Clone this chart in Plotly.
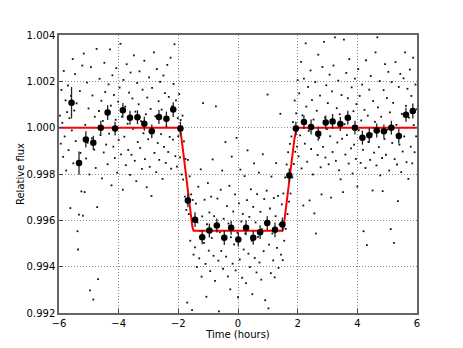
import plotly.graph_objects as go

# raw photometry, hours from mid-transit
left_time = [
    -5.97, -5.94, -5.92, -5.89, -5.86, -5.84, -5.81, -5.78, -5.76, -5.73,
    -5.70, -5.68, -5.65, -5.62, -5.60, -5.57, -5.54, -5.52, -5.49, -5.46,
    -5.44, -5.41, -5.38, -5.36, -5.33, -5.30, -5.28, -5.25, -5.22, -5.20,
    -5.17, -5.14, -5.12, -5.09, -5.06, -5.04, -5.01, -4.98, -4.96, -4.93,
    -4.90, -4.88, -4.85, -4.82, -4.80, -4.77, -4.74, -4.72, -4.69, -4.66,
    -4.64, -4.61, -4.58, -4.56, -4.53, -4.50, -4.48, -4.45, -4.42, -4.40,
    -4.37, -4.34, -4.32, -4.29, -4.26, -4.24, -4.21, -4.18, -4.16, -4.13,
    -4.10, -4.08, -4.05, -4.02, -4.00, -3.97, -3.94, -3.92, -3.89, -3.86,
    -3.84, -3.81, -3.78, -3.76, -3.73, -3.70, -3.68, -3.65, -3.62, -3.60,
    -3.57, -3.54, -3.52, -3.49, -3.46, -3.44, -3.41, -3.38, -3.36, -3.33,
    -3.30, -3.28, -3.25, -3.22, -3.20, -3.17, -3.14, -3.12, -3.09, -3.06,
    -3.04, -3.01, -2.98, -2.96, -2.93, -2.90, -2.88, -2.85, -2.82, -2.80,
    -2.77, -2.74, -2.72, -2.69, -2.66, -2.64, -2.61, -2.58, -2.56, -2.53,
    -2.50, -2.48, -2.45, -2.42, -2.40, -2.37, -2.34, -2.32, -2.29, -2.26,
    -2.24, -2.21, -2.18, -2.16, -2.13, -2.10, -2.08, -2.05, -2.02, -2.00,
]
left_flux = [
    1.00052, 0.99931, 1.00163, 1.00021, 0.99874, 1.00245, 0.99962, 1.00118, 0.99815, 1.00067,
    1.00182, 0.99903, 1.00041, 0.99653, 1.00137, 0.99988, 1.00296, 0.99846, 1.00074, 1.00231,
    0.99942, 1.00105, 0.99553, 0.99474, 0.99625, 1.00158, 0.99891, 0.99725, 1.00268, 0.99620,
    1.00320, 0.99722, 1.00012, 0.99867, 1.00194, 0.99935, 1.00083, 0.99798, 0.99298, 1.00261,
    0.99954, 1.00139, 0.99258, 0.99905, 1.00047, 0.99826, 1.00340, 0.99657, 0.99346, 1.00072,
    1.00211, 0.99968, 1.00116, 0.99781, 1.00029, 0.99893, 1.00280, 1.00154, 0.99927, 1.00063,
    0.99842, 1.00187, 0.99974, 1.00338, 1.00095, 0.99751, 1.00226, 0.99918, 1.00141, 0.99869,
    1.00034, 1.00257, 0.99806, 1.00112, 0.99947, 1.00173, 1.00362, 0.99885, 1.00048, 0.99732,
    1.00206, 0.99961, 1.00091, 0.99838, 1.00274, 1.00017, 0.99904, 1.00151, 0.99796, 1.00238,
    0.99883, 1.00126, 0.99995, 1.00312, 0.99857, 1.00069, 0.99769, 1.00193, 0.99938, 1.00101,
    1.00243, 0.99912, 1.00028, 0.99822, 1.00164, 0.99976, 1.00289, 0.99864, 1.00058, 0.99743,
    1.00130, 0.99950, 1.00217, 0.99831, 1.00081, 0.99705, 1.00172, 0.99986, 1.00325, 0.99891,
    1.00049, 0.99808, 1.00253, 0.99934, 1.00114, 0.99861, 1.00198, 0.99972, 1.00078, 0.99779,
    1.00225, 0.99917, 1.00149, 0.99848, 1.00006, 1.00271, 0.99895, 1.00133, 0.99960, 1.00302,
    0.99823, 1.00092, 0.99948, 1.00189, 1.00360, 0.99877, 1.00118, 0.99832, 1.00041, 0.99963,
]

transit_time = [
    -1.97, -1.94, -1.92, -1.89, -1.86, -1.84, -1.81, -1.78, -1.76, -1.73,
    -1.70, -1.68, -1.65, -1.62, -1.60, -1.57, -1.54, -1.52, -1.49, -1.46,
    -1.44, -1.41, -1.38, -1.36, -1.33, -1.30, -1.28, -1.25, -1.22, -1.20,
    -1.17, -1.14, -1.12, -1.09, -1.06, -1.04, -1.01, -0.98, -0.96, -0.93,
    -0.90, -0.88, -0.85, -0.82, -0.80, -0.77, -0.74, -0.72, -0.69, -0.66,
    -0.64, -0.61, -0.58, -0.56, -0.53, -0.50, -0.48, -0.45, -0.42, -0.40,
    -0.37, -0.34, -0.32, -0.29, -0.26, -0.24, -0.21, -0.18, -0.16, -0.13,
    -0.10, -0.08, -0.05, -0.02, 0.00, 0.03, 0.06, 0.08, 0.11, 0.14,
    0.16, 0.19, 0.22, 0.24, 0.27, 0.30, 0.32, 0.35, 0.38, 0.40,
    0.43, 0.46, 0.48, 0.51, 0.54, 0.56, 0.59, 0.62, 0.64, 0.67,
    0.70, 0.72, 0.75, 0.78, 0.80, 0.83, 0.86, 0.88, 0.91, 0.94,
    0.96, 0.99, 1.02, 1.04, 1.07, 1.10, 1.12, 1.15, 1.18, 1.20,
    1.23, 1.26, 1.28, 1.31, 1.34, 1.36, 1.39, 1.42, 1.44, 1.47,
    1.50, 1.52, 1.55, 1.58, 1.60, 1.63, 1.66, 1.68, 1.71, 1.74,
    1.76, 1.79, 1.82, 1.84, 1.87, 1.90, 1.92, 1.95, 1.98, 2.00,
]
transit_flux = [
    1.00145, 0.99872, 1.00033, 0.99798, 1.00052, 0.99776, 0.99941, 0.99702, 0.99865, 0.99645,
    0.99245, 0.99861, 0.99627, 0.99790, 0.99512, 0.99712, 0.99212, 0.99688, 0.99452, 0.99609,
    0.99483, 0.99672, 0.99398, 0.99591, 0.99745, 0.99436, 0.99554, 0.99820, 0.99357, 0.99617,
    1.00106, 0.99503, 0.99689, 0.99412, 0.99270, 0.99583, 0.99761, 0.99469, 0.99634, 0.99381,
    0.99702, 0.99524, 0.99863, 0.99447, 0.99618, 0.99339, 1.00092, 0.99571, 0.99694, 0.99426,
    0.99207, 0.99549, 0.99732, 0.99468, 0.99815, 0.99391, 0.99607, 0.99522, 0.99938, 0.99443,
    0.99661, 0.99358, 0.99586, 0.99749, 0.99302, 0.99527, 0.99875, 0.99413, 0.99638, 0.99496,
    0.99712, 0.99384, 0.99956, 0.99547, 0.99268, 0.99673, 0.99431, 0.99819, 0.99595, 0.99352,
    0.99628, 0.99474, 0.99791, 0.99543, 0.99329, 0.99687, 0.99902, 0.99456, 0.99615, 0.99398,
    0.99734, 0.99512, 0.99281, 0.99658, 0.99846, 0.99437, 0.99591, 0.99375, 0.99713, 0.99529,
    0.99806, 0.99418, 0.99637, 0.99344, 0.99562, 0.99885, 0.99467, 0.99692, 0.99255, 0.99581,
    0.99728, 1.00143, 0.99220, 0.99495, 0.99651, 0.99372, 0.99789, 0.99543, 0.99427, 0.99696,
    0.99354, 0.99618, 0.99847, 0.99481, 0.99706, 0.99395, 0.99582, 1.00060, 0.99452, 0.99669,
    0.99428, 0.99716, 0.99512, 0.99785, 0.99563, 0.99841, 0.99627, 0.99894, 0.99681, 0.99930,
    0.99716, 0.99962, 0.99785, 1.00024, 0.99843, 1.00117, 0.99896, 1.00062, 0.99918, 1.00205,
]

right_time = [
    2.03, 2.05, 2.08, 2.11, 2.13, 2.16, 2.19, 2.21, 2.24, 2.27,
    2.29, 2.32, 2.35, 2.37, 2.40, 2.43, 2.45, 2.48, 2.51, 2.53,
    2.56, 2.59, 2.61, 2.64, 2.67, 2.69, 2.72, 2.75, 2.77, 2.80,
    2.83, 2.85, 2.88, 2.91, 2.93, 2.96, 2.99, 3.01, 3.04, 3.07,
    3.09, 3.12, 3.15, 3.17, 3.20, 3.23, 3.25, 3.28, 3.31, 3.33,
    3.36, 3.39, 3.41, 3.44, 3.47, 3.49, 3.52, 3.55, 3.57, 3.60,
    3.63, 3.65, 3.68, 3.71, 3.73, 3.76, 3.79, 3.81, 3.84, 3.87,
    3.89, 3.92, 3.95, 3.97, 4.00, 4.03, 4.05, 4.08, 4.11, 4.13,
    4.16, 4.19, 4.21, 4.24, 4.27, 4.29, 4.32, 4.35, 4.37, 4.40,
    4.43, 4.45, 4.48, 4.51, 4.53, 4.56, 4.59, 4.61, 4.64, 4.67,
    4.69, 4.72, 4.75, 4.77, 4.80, 4.83, 4.85, 4.88, 4.91, 4.93,
    4.96, 4.99, 5.01, 5.04, 5.07, 5.09, 5.12, 5.15, 5.17, 5.20,
    5.23, 5.25, 5.28, 5.31, 5.33, 5.36, 5.39, 5.41, 5.44, 5.47,
    5.49, 5.52, 5.55, 5.57, 5.60, 5.63, 5.65, 5.68, 5.71, 5.73,
    5.76, 5.79, 5.81, 5.84, 5.87, 5.89, 5.92, 5.95, 5.97, 5.99,
]
right_flux = [
    0.99876, 1.00148, 0.99967, 1.00284, 0.99824, 1.00053, 0.99664, 1.00212, 0.99931, 1.00364,
    1.00091, 0.99853, 1.00176, 0.99986, 0.99686, 1.00247, 0.99908, 1.00119, 0.99798, 1.00035,
    0.99630, 1.00197, 0.99543, 1.00073, 0.99882, 1.00315, 0.99956, 1.00138, 0.99829, 0.99712,
    1.00262, 0.99917, 1.00370, 1.00044, 0.99871, 1.00183, 0.99994, 1.00106, 0.99842, 1.00229,
    0.99963, 0.99698, 1.00157, 0.99895, 1.00268, 1.00021, 1.00390, 0.99857, 1.00084, 0.99936,
    1.00203, 0.99816, 1.00058, 0.99777, 1.00141, 0.99952, 0.99722, 1.00380, 1.00015, 0.99884,
    1.00236, 0.99968, 1.00127, 0.99845, 1.00296, 1.00039, 0.99911, 1.00174, 0.99802, 1.00071,
    0.99927, 1.00212, 0.99865, 1.00102, 0.99746, 1.00253, 0.99989, 1.00137, 0.99848, 1.00031,
    1.00186, 0.99904, 0.99553, 1.00077, 0.99826, 1.00291, 0.99493, 1.00052, 0.99938, 1.00164,
    0.99861, 1.00223, 0.99973, 0.99729, 1.00115, 0.99892, 1.00025, 1.00325, 0.99837, 1.00390,
    1.00088, 0.99916, 1.00201, 0.99794, 1.00047, 0.99869, 0.99726, 1.00162, 0.99951, 1.00274,
    0.99883, 1.00128, 0.99992, 1.00241, 0.99815, 1.00066, 0.99562, 1.00197, 0.99934, 1.00107,
    0.99503, 0.99864, 1.00283, 1.00012, 0.99841, 0.99683, 1.00176, 0.99927, 1.00232, 0.99808,
    1.00059, 0.99897, 1.00213, 0.99962, 1.00325, 1.00094, 0.99851, 1.00168, 0.99779, 1.00043,
    1.00251, 0.99918, 1.00137, 0.99846, 1.00302, 1.00011, 0.99894, 1.00186, 0.99962, 1.00079,
]

# binned light curve
bin_time = [
    -5.58, -5.33, -5.10, -4.85, -4.60, -4.37, -4.12, -3.86, -3.62, -3.37, -3.14, -2.89,
    -2.65, -2.40, -2.17, -1.93, -1.68, -1.44, -1.20, -0.96, -0.71, -0.46, -0.23, 0.01,
    0.27, 0.51, 0.74, 0.98, 1.24, 1.49, 1.72, 1.94, 2.21, 2.45, 2.69, 2.94,
    3.17, 3.43, 3.68, 3.92, 4.17, 4.40, 4.65, 4.89, 5.14, 5.39, 5.63, 5.86,
]
bin_flux = [
    1.00108, 0.99847, 0.99949, 0.99935, 1.00000, 1.00065, 0.99996, 1.00075, 1.00043, 1.00045, 1.00017, 0.99984,
    1.00046, 1.00039, 1.00078, 0.99996, 0.99686, 0.99603, 0.99527, 0.99556, 0.99578, 0.99525, 0.99568, 0.99517,
    0.99568, 0.99525, 0.99549, 0.99588, 0.99559, 0.99582, 0.99794, 0.99996, 1.00024, 1.00003, 0.99974, 1.00022,
    1.00027, 1.00016, 1.00043, 1.00000, 0.99957, 0.99967, 0.99988, 0.99984, 1.00000, 0.99964, 1.00056, 1.00072,
]
bin_err = [
    0.00068, 0.00050, 0.00035, 0.00030, 0.00030, 0.00032, 0.00030, 0.00032, 0.00030, 0.00030, 0.00030, 0.00030,
    0.00030, 0.00030, 0.00032, 0.00030, 0.00030, 0.00032, 0.00030, 0.00030, 0.00030, 0.00032, 0.00030, 0.00030,
    0.00032, 0.00030, 0.00030, 0.00030, 0.00032, 0.00030, 0.00030, 0.00030, 0.00030, 0.00032, 0.00030, 0.00030,
    0.00032, 0.00030, 0.00030, 0.00030, 0.00030, 0.00032, 0.00030, 0.00030, 0.00030, 0.00032, 0.00030, 0.00032,
]

# transit model
model_time = [-6.0, -1.97, -1.93, -1.89, -1.53, -1.49, 1.49, 1.53, 1.89, 1.93, 1.97, 6.0]
model_flux = [1.0, 1.0, 0.99985, 0.99950, 0.99572, 0.99555, 0.99555, 0.99572, 0.99950, 0.99985, 1.0, 1.0]

raw_time = left_time + transit_time + right_time
raw_flux = left_flux + transit_flux + right_flux

fig = go.Figure()
fig.add_scatter(
    x=raw_time, y=raw_flux, mode="markers",
    marker=dict(color="#111", size=1.8, symbol="square"),
)
fig.add_scatter(
    x=model_time, y=model_flux, mode="lines",
    line=dict(color="#ff0000", width=2),
)
fig.add_scatter(
    x=bin_time, y=bin_flux, mode="markers",
    marker=dict(color="black", size=6.5),
    error_y=dict(type="data", array=bin_err, color="#222", thickness=1.3, width=0),
)

axis_style = dict(
    showline=True, mirror=True, linecolor="#666", linewidth=1.5,
    showgrid=True, gridcolor="#888", gridwidth=1, griddash="1px,2px",
    zeroline=False, ticks="inside", ticklen=4, tickcolor="#444",
    tickfont=dict(size=10, color="black"), automargin=False,
)
fig.update_xaxes(
    range=[-6, 6], dtick=2, tick0=-6,
    title=dict(text="Time (hours)", font=dict(size=10, color="black"), standoff=1),
    **axis_style,
)
fig.update_yaxes(
    range=[0.992, 1.004], dtick=0.002, tick0=0.992, tickformat=".3f",
    title=dict(text="Relative flux", font=dict(size=10, color="black"), standoff=0),
    **axis_style,
)
# page body has an 8px margin, so the figure is sized and padded to land the plot area in place
fig.update_layout(
    width=455, height=340,
    margin=dict(l=51, r=46, t=27, b=35),
    paper_bgcolor="white", plot_bgcolor="white",
    showlegend=False, hovermode=False,
    font=dict(family="DejaVu Sans", size=10, color="black"),
)
fig.write_html("out.html")
